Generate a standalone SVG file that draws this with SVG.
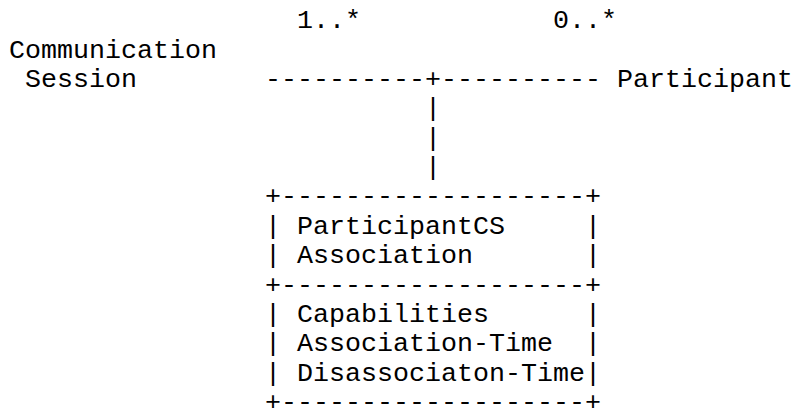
<svg xmlns="http://www.w3.org/2000/svg" width="793" height="408" viewBox="0 0 793 408">
<style>
text{font-family:"Liberation Mono","Courier New",monospace;font-size:26.667px;fill:#000;white-space:pre}
</style>
<rect width="793" height="408" fill="#fff"/>
<g id="labels">
<text x="297" y="28.3">1..*</text>
<text x="553" y="28.3">0..*</text>
</g>
<g id="node-communication-session">
<text x="9" y="57.7">Communication</text>
<text x="25" y="87">Session</text>
</g>
<g id="node-participant">
<text x="617" y="87">Participant</text>
</g>
<g id="connectors">
<text x="265" y="87">----------+----------</text>
<text x="425" y="116.4">|</text>
<text x="425" y="145.7">|</text>
<text x="425" y="175">|</text>
</g>
<g id="node-participantcs-association">
<text x="265" y="204.4">+-------------------+</text>
<text x="265" y="233.8">|</text><text x="297" y="233.8">ParticipantCS</text><text x="585" y="233.8">|</text>
<text x="265" y="263.1">|</text><text x="297" y="263.1">Association</text><text x="585" y="263.1">|</text>
<text x="265" y="292.5">+-------------------+</text>
<text x="265" y="321.8">|</text><text x="297" y="321.8">Capabilities</text><text x="585" y="321.8">|</text>
<text x="265" y="351.2">|</text><text x="297" y="351.2">Association-Time</text><text x="585" y="351.2">|</text>
<text x="265" y="380.5">|</text><text x="297" y="380.5">Disassociaton-Time</text><text x="585" y="380.5">|</text>
<text x="265" y="409.9">+-------------------+</text>
</g>
</svg>
